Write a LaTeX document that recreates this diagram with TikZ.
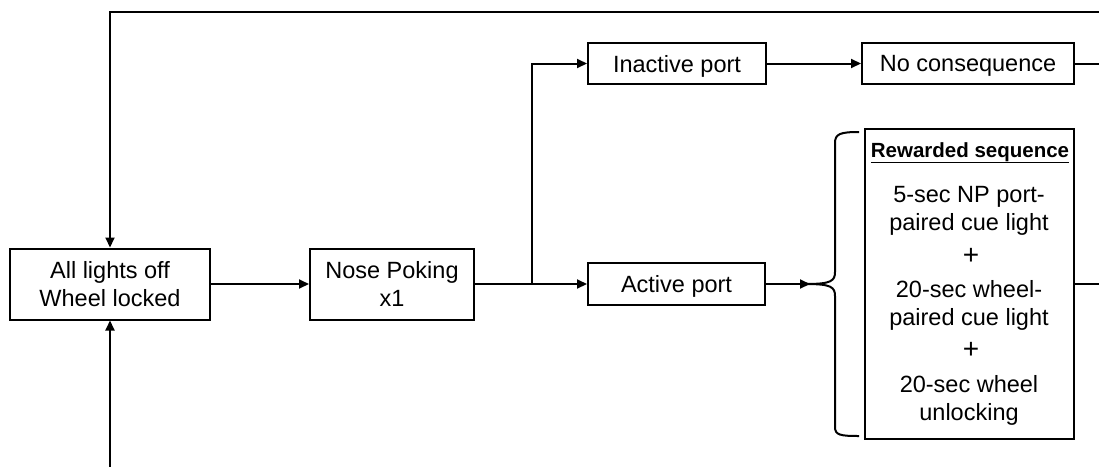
\documentclass[tikz,border=0pt]{standalone}
\usepackage{fontspec}
\setmainfont{Liberation Sans}
\usetikzlibrary{arrows.meta}
\tikzset{
  box/.style={draw, line width=2pt, inner sep=0pt, align=center,
    font=\fontsize{23.5}{28}\selectfont},
  onebox/.style={box, text depth=0pt},
  arr/.style={line width=2pt, -{Triangle[length=10pt,width=9pt]}},
  conn/.style={line width=2pt},
  seqtxt/.style={anchor=base, inner sep=0pt, font=\fontsize{23.5}{28}\selectfont},
  plustxt/.style={anchor=center, inner sep=0pt, font=\fontsize{28}{28}\selectfont},
}
\begin{document}
\begin{tikzpicture}[x=1pt,y=-1pt]
\useasboundingbox (0,0) rectangle (1099,466);
% boxes
\node[box, minimum width=200pt, minimum height=71pt] (all) at (110,284) {All lights off\\Wheel locked};
\node[box, minimum width=164pt, minimum height=71pt] (nose) at (392,284) {Nose Poking\\x1};
\node[onebox, minimum width=178pt, minimum height=41pt] (inactive) at (677,63.5) {Inactive port};
\node[onebox, minimum width=212pt, minimum height=41pt] (nocons) at (968,63.5) {No consequence};
\node[onebox, minimum width=177pt, minimum height=42pt] (active) at (676.5,284) {Active port};
\node[draw, line width=2pt, minimum width=209pt, minimum height=310pt, inner sep=0pt] (reward) at (969.5,284) {};
% reward texts
\node[anchor=base, inner sep=0pt, font=\fontsize{20.5}{24}\selectfont\bfseries] (title) at (970,157) {\underline{Rewarded sequence}};
\node[seqtxt] (s1a) at (969,202) {5-sec NP port-};
\node[seqtxt] (s1b) at (969,230) {paired cue light};
\node[plustxt] (p1) at (971,256) {+};
\node[seqtxt] (s2a) at (969,297) {20-sec wheel-};
\node[seqtxt] (s2b) at (969,325) {paired cue light};
\node[plustxt] (p2) at (971,350) {+};
\node[seqtxt] (s3a) at (969,392) {20-sec wheel};
\node[seqtxt] (s3b) at (969,420) {unlocking};
% free ends
\coordinate (branch) at (532,284);
\coordinate (topR) at (1099,12);
\coordinate (botL) at (110,468);
\coordinate (rightTop) at (1099,63.5);
\coordinate (rightMid) at (1099,284);
\coordinate (tip) at (806,284);
% connectors
\draw[arr] (all.east) -- (nose.west);
\draw[arr] (nose.east) -- (active.west);
\draw[arr] (branch) |- (inactive.west);
\draw[arr] (inactive.east) -- (nocons.west);
\draw[conn] (nocons.east) -- (rightTop);
\draw[conn] (reward.east) -- (rightMid);
\draw[arr] (topR) -| (all.north);
\draw[arr] (botL) -- (all.south);
\draw[arr] (active.east) -- (810,284);
% brace
\draw[conn] (859,132) .. controls (840,132) and (835,134) .. (835,143)
  -- (835,272) .. controls (835,281) and (831,284) .. (tip)
  .. controls (831,284) and (835,287) .. (835,296)
  -- (835,427) .. controls (835,435) and (840,436) .. (859,436);
\end{tikzpicture}
\end{document}
